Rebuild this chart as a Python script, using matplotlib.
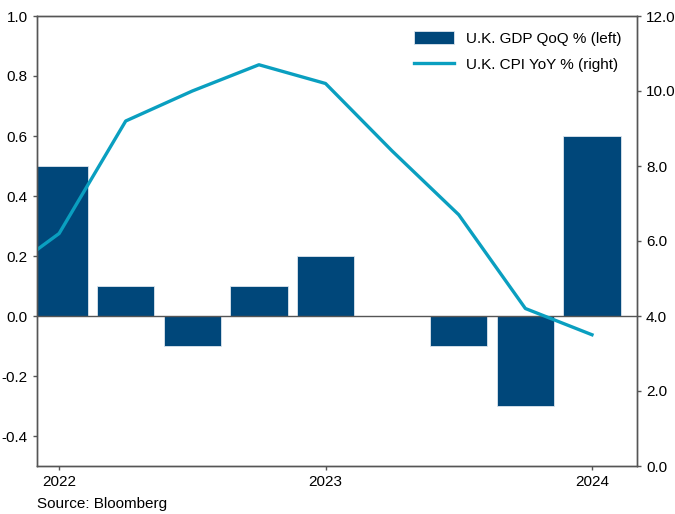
import numpy as np
import matplotlib
matplotlib.use("Agg")
from matplotlib import pyplot as plt

# quarterly positions in years (2021 Q4 .. 2024 Q1)
quarters = [2021.75, 2022.0, 2022.25, 2022.5, 2022.75, 2023.0, 2023.25, 2023.5, 2023.75, 2024.0]
# U.K. GDP QoQ % (no bar for 2021 Q4)
gdp_qoq = [np.nan, 0.5, 0.1, -0.1, 0.1, 0.2, 0.0, -0.1, -0.3, 0.6]
# U.K. CPI YoY % (quarter averages)
cpi_yoy = [4.9, 6.2, 9.2, 10.0, 10.7, 10.2, 8.4, 6.7, 4.2, 3.5]
year_ticks = [2022, 2023, 2024]

bar_color = "#00477A"
line_color = "#0A9FC0"
axis_color = "#555555"

plt.rcParams['font.family'] = ['Liberation Sans', 'DejaVu Sans']
plt.rcParams['font.size'] = 11

fig = plt.figure(figsize=(6.75, 5.14), dpi=100)
ax = fig.add_axes([37 / 675, 1 - 466 / 514, 600 / 675, 450 / 514])
ax2 = ax.twinx()

bars = ax.bar(quarters, gdp_qoq, width=0.215, color=bar_color,
              edgecolor="#dde6ee", linewidth=0.6)
ax.axhline(0, color=axis_color, linewidth=1.0, zorder=3)
line, = ax2.plot(quarters, cpi_yoy, color=line_color, linewidth=2.4)

ax.set_xlim(2021.917, 2024.169)
ax.set_ylim(-0.5, 1.0)
ax2.set_ylim(0, 12)
ax.set_xticks(year_ticks)
ax.set_xticklabels([str(y) for y in year_ticks])
left_ticks = np.arange(-0.4, 1.01, 0.2)
ax.set_yticks(left_ticks)
ax.set_yticklabels(["%.1f" % v for v in left_ticks])
right_ticks = np.arange(0, 12.1, 2)
ax2.set_yticks(right_ticks)
ax2.set_yticklabels(["%.1f" % v for v in right_ticks])

for a in (ax, ax2):
    for s in a.spines.values():
        s.set_color(axis_color)
        s.set_linewidth(1.0)
    a.tick_params(colors=axis_color, labelcolor="black", length=3, width=1, labelsize=11)

ax.legend([bars, line], ["U.K. GDP QoQ % (left)", "U.K. CPI YoY % (right)"],
          loc="upper right", frameon=False, fontsize=11, handlelength=2.6,
          handleheight=0.9, borderaxespad=0.6, labelspacing=0.75)

fig.text(37 / 675, 1 - 504 / 514, "Source: Bloomberg", fontsize=11, va="center", ha="left")

fig.savefig("out.png", dpi=100)
